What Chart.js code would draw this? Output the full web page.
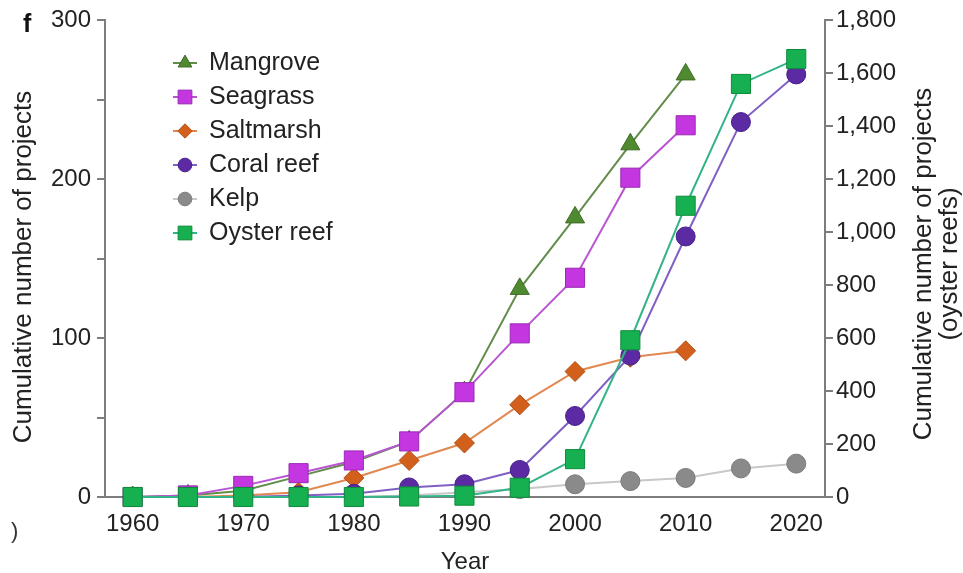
<!DOCTYPE html>
<html>
<head>
<meta charset="utf-8">
<script src="https://cdn.jsdelivr.net/npm/chart.js@4.4.0/dist/chart.umd.min.js"></script>
<style>
  html, body { margin: 0; padding: 0; background: #fff; }
  #wrap { position: relative; width: 963px; height: 573px; }
</style>
</head>
<body>
<div id="wrap"><canvas id="chart" width="963" height="573"></canvas></div>
<script>
// values (left axis, except oyster reef = right axis)
const years = [1960, 1965, 1970, 1975, 1980, 1985, 1990, 1995, 2000, 2005, 2010, 2015, 2020];
const yearTicks = [1960, 1970, 1980, 1990, 2000, 2010, 2020];
const mangrove = [0, 1, 4, 13, 22, 35, 66, 131, 176, 222, 266];
const seagrass = [0, 1, 7, 15, 23, 35, 66, 103, 138, 201, 234];
const saltmarsh = [0, 0, 1, 3, 12, 23, 34, 58, 79, 88, 92];
const coralReef = [0, 0, 0, 1, 2, 6, 8, 17, 51, 89, 164, 236, 266];
const kelp = [0, 0, 0, 0, 0, 1, 3, 5, 8, 10, 12, 18, 21];
const oysterReef = [0, 0, 0, 0, 0, 2, 5, 35, 143, 592, 1100, 1560, 1654];

const FONT = '"Liberation Sans", Arial, Helvetica, sans-serif';
const toPoints = (vals) => vals.map((v, i) => ({ x: years[i], y: v }));

const datasets = [
    {
        label: "Mangrove", data: toPoints(mangrove), yAxisID: "y", order: 5,
        borderColor: "#628c4a", pointBackgroundColor: "#4f8a30", pointBorderColor: "#3d6b25",
        pointStyle: "triangle", pointRadius: 11,
    },
    {
        label: "Seagrass", data: toPoints(seagrass), yAxisID: "y", order: 3,
        borderColor: "#b955d2", pointBackgroundColor: "#c436e0", pointBorderColor: "#9a2ab4",
        pointStyle: "rect", pointRadius: 13.5,
    },
    {
        label: "Saltmarsh", data: toPoints(saltmarsh), yAxisID: "y", order: 4,
        borderColor: "#e08850", pointBackgroundColor: "#d2601c", pointBorderColor: "#b04e14",
        pointStyle: "rectRot", pointRadius: 10,
    },
    {
        label: "Coral reef", data: toPoints(coralReef), yAxisID: "y", order: 2,
        borderColor: "#8060c4", pointBackgroundColor: "#5c2aa2", pointBorderColor: "#47208a",
        pointStyle: "circle", pointRadius: 9.5,
    },
    {
        label: "Kelp", data: toPoints(kelp), yAxisID: "y", order: 6,
        borderColor: "#c8c8c8", pointBackgroundColor: "#8a8a8a", pointBorderColor: "#7a7a7a",
        pointStyle: "circle", pointRadius: 9.5,
    },
    {
        label: "Oyster reef", data: toPoints(oysterReef), yAxisID: "y2", order: 1,
        borderColor: "#32b487", pointBackgroundColor: "#16b050", pointBorderColor: "#0e8c3c",
        pointStyle: "rect", pointRadius: 13.5,
    },
];

// legend inside the plot + axis titles + panel letter
const extrasPlugin = {
    id: "extras",
    afterDraw(chart) {
        const ctx = chart.ctx;
        ctx.save();
        ctx.font = "25px " + FONT;
        ctx.textBaseline = "middle";
        chart.data.datasets.forEach((ds, i) => {
            const y = 63 + i * 34;
            ctx.strokeStyle = ds.borderColor;
            ctx.lineWidth = 2;
            ctx.beginPath();
            ctx.moveTo(173, y);
            ctx.lineTo(197, y);
            ctx.stroke();
            ctx.fillStyle = ds.pointBackgroundColor;
            ctx.strokeStyle = ds.pointBorderColor;
            ctx.lineWidth = 1;
            Chart.helpers.drawPoint(ctx, {
                pointStyle: ds.pointStyle, radius: ds.pointRadius * 0.72, borderWidth: 1, rotation: 0
            }, 185, y);
            ctx.fillStyle = "#222";
            ctx.textAlign = "left";
            ctx.fillText(ds.label, 209, y);
        });
        ctx.restore();

        // left axis title
        ctx.save();
        ctx.font = "26px " + FONT;
        ctx.textBaseline = "middle";
        ctx.textAlign = "center";
        ctx.fillStyle = "#222";
        ctx.translate(24, 267);
        ctx.rotate(-Math.PI / 2);
        ctx.fillText("Cumulative number of projects", 0, 0);
        ctx.restore();

        // right axis title, reads bottom to top
        ctx.save();
        ctx.font = "26px " + FONT;
        ctx.textBaseline = "middle";
        ctx.textAlign = "center";
        ctx.fillStyle = "#222";
        ctx.translate(937, 264);
        ctx.rotate(-Math.PI / 2);
        ctx.fillText("Cumulative number of projects", 0, -13);
        ctx.fillText("(oyster reefs)", 0, 13);
        ctx.restore();

        ctx.save();
        ctx.fillStyle = "#111";
        ctx.font = "bold 25px " + FONT;
        ctx.textBaseline = "middle";
        ctx.fillText("f", 23, 25);
        ctx.font = "22px " + FONT;
        ctx.fillStyle = "#333";
        ctx.fillText(")", 11, 532);
        ctx.restore();
    }
};

const axisGrey = "#7d7d7d";
const tickFont = { family: FONT, size: 24 };

new Chart(document.getElementById("chart").getContext("2d"), {
    type: "line",
    data: { datasets },
    options: {
        responsive: false,
        animation: false,
        devicePixelRatio: 1,
        layout: { padding: { top: 16, right: 0, left: 0, bottom: 0 } },
        datasets: {
            line: { borderWidth: 2, tension: 0, pointBorderWidth: 1, clip: false }
        },
        plugins: {
            legend: { display: false },
            tooltip: { enabled: false },
        },
        scales: {
            x: {
                type: "linear",
                min: 1957.5,
                max: 2022.6,
                afterBuildTicks: (s) => { s.ticks = yearTicks.map(v => ({ value: v })); },
                afterFit: (s) => { s.height = 76; },
                grid: { display: false },
                border: { color: axisGrey, width: 2 },
                ticks: { font: tickFont, color: "#222", padding: 5, maxRotation: 0, callback: (v) => String(v) },
                title: {
                    display: true, text: "Year", font: { family: FONT, size: 24 }, color: "#222",
                    padding: { top: 0, bottom: -4 }
                },
            },
            y: {
                position: "left",
                min: 0,
                max: 300,
                afterFit: (s) => { s.width = 105; },
                grid: { drawOnChartArea: false, drawTicks: true, tickLength: 8, color: axisGrey, lineWidth: 2 },
                border: { color: axisGrey, width: 2 },
                ticks: {
                    stepSize: 50, font: tickFont, color: "#222", padding: 6,
                    callback: (v) => (v % 100 === 0 ? String(v) : "")
                },
            },
            y2: {
                position: "right",
                min: 0,
                max: 1800,
                afterFit: (s) => { s.width = 138; },
                grid: { drawOnChartArea: false, drawTicks: true, tickLength: 8, color: axisGrey, lineWidth: 2 },
                border: { color: axisGrey, width: 2 },
                ticks: {
                    stepSize: 200, font: tickFont, color: "#222", padding: 3,
                    callback: (v) => v.toLocaleString("en-US")
                },
            },
        },
    },
    plugins: [extrasPlugin],
});
</script>
</body>
</html>
